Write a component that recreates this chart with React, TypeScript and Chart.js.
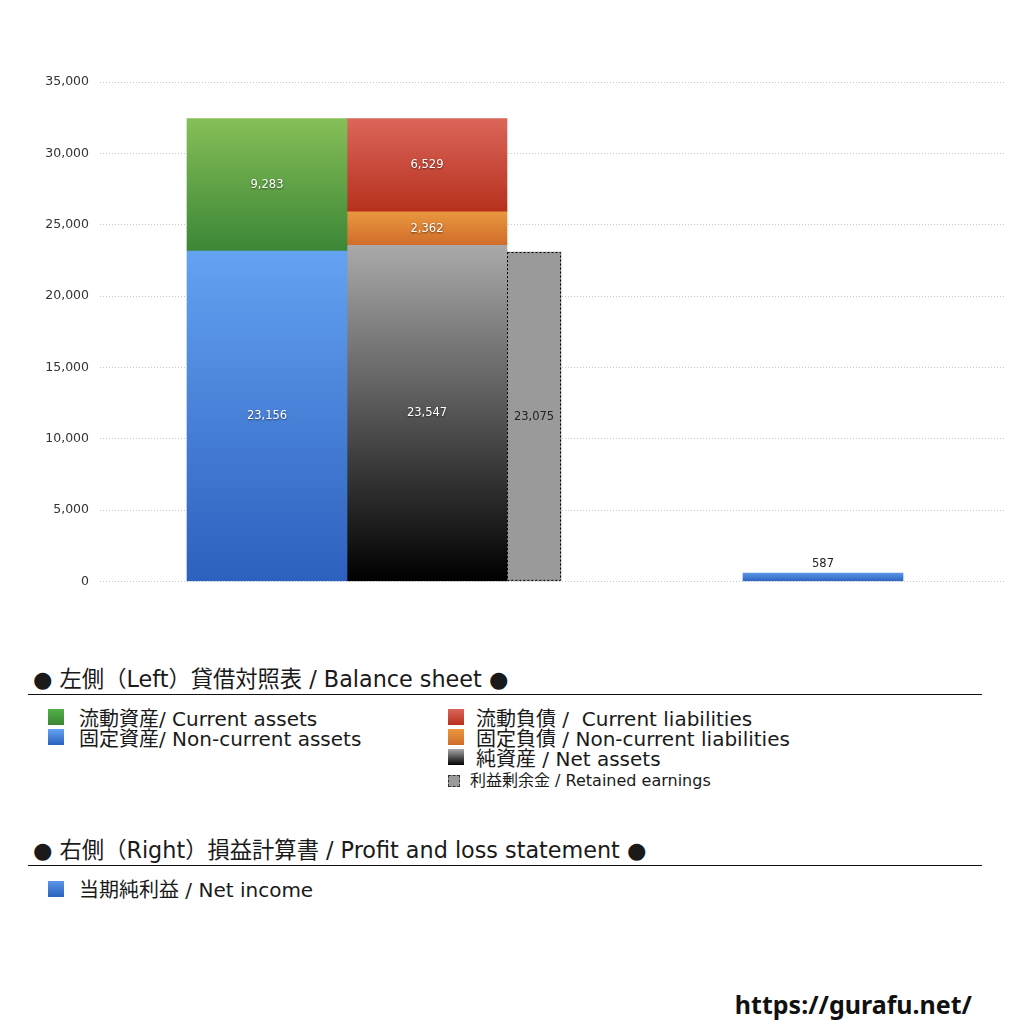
import React, { useEffect, useRef } from "react";
import { Chart, registerables } from "chart.js";

Chart.register(...registerables);

// ---- data (values in the reference) ----
const currentAssets = 9283; // 流動資産
const nonCurrentAssets = 23156; // 固定資産
const currentLiabilities = 6529; // 流動負債
const nonCurrentLiabilities = 2362; // 固定負債
const netAssets = 23547; // 純資産
const retainedEarnings = 23075; // 利益剰余金
const netIncome = 587; // 当期純利益

const yTickMax = 35000;
const yTickStep = 5000;

// ---- layout (pixel offsets inside the plot, x axis is 0..905) ----
const SLOT = { assets: 167, liabilities: 327, retained: 434, income: 723 };
const WIDE = 160;
const NARROW = 54;

const latin = '"DejaVu Sans", "Noto Sans CJK JP", sans-serif';

type Grad = [string, string];

function gradFill(colors: Grad) {
  return (c: any) => {
    const chart = c.chart;
    const raw = c.raw;
    if (!chart.chartArea || !raw || !chart.scales.y) return colors[1];
    const y = chart.scales.y;
    const [lo, hi] = raw.y;
    const top = y.getPixelForValue(hi);
    const bot = y.getPixelForValue(lo);
    if (!isFinite(top) || !isFinite(bot)) return colors[1];
    const g = chart.ctx.createLinearGradient(0, top, 0, bot);
    g.addColorStop(0, colors[0]);
    g.addColorStop(1, colors[1]);
    return g;
  };
}

const labelPlugin = {
  id: "barLabels",
  afterDatasetsDraw(chart: any) {
    const ctx = chart.ctx;
    chart.data.datasets.forEach((ds: any, i: number) => {
      const meta = chart.getDatasetMeta(i);
      meta.data.forEach((el: any, j: number) => {
        const raw = ds.data[j];
        const val = raw.y[1] - raw.y[0];
        const txt = val.toLocaleString("en-US");
        const { x, y, base } = el.getProps(["x", "y", "base"], true);
        ctx.save();
        ctx.font = `11.5px ${latin}`;
        ctx.textAlign = "center";
        ctx.textBaseline = "middle";
        if (ds.labelMode === "above") {
          ctx.fillStyle = "#222";
          ctx.fillText(txt, x, y - 9);
        } else if (ds.labelMode === "dark") {
          ctx.fillStyle = "#222";
          ctx.fillText(txt, x, (y + base) / 2);
        } else {
          ctx.shadowColor = "rgba(0,0,0,0.55)";
          ctx.shadowBlur = 2;
          ctx.shadowOffsetY = 1;
          ctx.fillStyle = "#fff";
          ctx.fillText(txt, x, (y + base) / 2);
        }
        ctx.restore();
      });
    });
  },
};

const dashedBorderPlugin = {
  id: "dashedBorder",
  afterDatasetsDraw(chart: any) {
    const idx = chart.data.datasets.findIndex((d: any) => d.dashedBorder);
    if (idx < 0) return;
    const el = chart.getDatasetMeta(idx).data[0];
    if (!el) return;
    const { x, y, base, width } = el.getProps(["x", "y", "base", "width"], true);
    const c = chart.ctx;
    c.save();
    c.strokeStyle = "#000";
    c.lineWidth = 1;
    c.setLineDash([2, 2]);
    c.strokeRect(Math.round(x - width / 2) + 0.5, Math.round(y) + 0.5, width - 1, base - y - 1);
    c.restore();
  },
};

function BalanceChart() {
  const ref = useRef<HTMLCanvasElement | null>(null);
  useEffect(() => {
    if (!ref.current) return;
    const assetsTop = nonCurrentAssets + currentAssets;
    const liabMid = netAssets + nonCurrentLiabilities;
    const liabTop = liabMid + currentLiabilities;
    const common = { grouped: false, borderWidth: 0 };
    const chart = new Chart(ref.current, {
      type: "bar",
      data: {
        datasets: [
          {
            ...common,
            label: "固定資産",
            data: [{ x: SLOT.assets, y: [0, nonCurrentAssets] }],
            barThickness: WIDE,
            backgroundColor: gradFill(["#64a2f2", "#2c60bd"]),
          },
          {
            ...common,
            label: "流動資産",
            data: [{ x: SLOT.assets, y: [nonCurrentAssets, assetsTop] }],
            barThickness: WIDE,
            backgroundColor: gradFill(["#86bf57", "#3b8636"]),
          },
          {
            ...common,
            label: "純資産",
            data: [{ x: SLOT.liabilities, y: [0, netAssets] }],
            barThickness: WIDE,
            backgroundColor: gradFill(["#a9a9a9", "#000000"]),
          },
          {
            ...common,
            label: "固定負債",
            data: [{ x: SLOT.liabilities, y: [netAssets, liabMid] }],
            barThickness: WIDE,
            backgroundColor: gradFill(["#e9973f", "#d06c2a"]),
          },
          {
            ...common,
            label: "流動負債",
            data: [{ x: SLOT.liabilities, y: [liabMid, liabTop] }],
            barThickness: WIDE,
            backgroundColor: gradFill(["#da6659", "#b7301e"]),
          },
          {
            ...common,
            label: "利益剰余金",
            labelMode: "dark",
            dashedBorder: true,
            data: [{ x: SLOT.retained, y: [0, retainedEarnings] }],
            barThickness: NARROW,
            backgroundColor: "#9a9a9a",
          },
          {
            ...common,
            label: "当期純利益",
            labelMode: "above",
            data: [{ x: SLOT.income, y: [0, netIncome] }],
            barThickness: WIDE,
            backgroundColor: gradFill(["#5a95e6", "#2c62c0"]),
          },
        ] as any,
      },
      options: {
        animation: false,
        responsive: true,
        maintainAspectRatio: false,
        layout: { padding: { top: 82, bottom: 18, left: 0, right: 19 } },
        plugins: { legend: { display: false }, tooltip: { enabled: false } },
        scales: {
          x: { type: "linear", display: false, offset: false, min: 0, max: 905 },
          y: {
            min: 0,
            max: yTickMax,
            afterFit: (s: any) => {
              s.width = 100;
            },
            ticks: {
              stepSize: yTickStep,
              padding: 11,
              color: "#333",
              font: { size: 12.5, family: latin },
              callback: (v: any) => Number(v).toLocaleString("en-US"),
            },
            grid: { color: "#c8c8c8", drawTicks: false, lineWidth: 1 },
            border: { display: false, dash: [1, 2] },
          },
        },
      },
      plugins: [labelPlugin, dashedBorderPlugin],
    } as any);
    return () => chart.destroy();
  }, []);
  return (
    <div style={{ position: "absolute", left: 0, top: 0, width: 1024, height: 600 }}>
      <canvas ref={ref} />
    </div>
  );
}

function Marker({ x, y, from, to, size = 16, dashed = false }: any) {
  return (
    <div
      style={{
        position: "absolute",
        left: x,
        top: y - size / 2,
        width: size,
        height: size,
        boxSizing: "border-box",
        background: dashed ? "#9a9a9a" : `linear-gradient(${from}, ${to})`,
        border: dashed ? "1px dashed #333" : "none",
      }}
    />
  );
}

function Txt({ x, y, size, children }: any) {
  return (
    <div
      style={{
        position: "absolute",
        left: x,
        top: y - 15,
        height: 30,
        lineHeight: "30px",
        fontSize: size,
        fontFamily: latin,
        color: "#1a1a1a",
        whiteSpace: "pre",
      }}
    >
      {children}
    </div>
  );
}

function Rule({ y }: any) {
  return <div style={{ position: "absolute", left: 28, top: y, width: 954, height: 0, borderTop: "1px solid #111" }} />;
}

export default function App() {
  return (
    <div style={{ position: "absolute", left: 0, top: 0, width: 1024, height: 1024, background: "#fff", overflow: "hidden" }}>
      <BalanceChart />
      <Txt x={33} y={679} size={22.3}>● 左側（Left）貸借対照表 / Balance sheet ●</Txt>
      <Rule y={694} />
      <Marker x={48} y={717} from="#52b048" to="#3b8636" />
      <Txt x={79} y={719} size={20}>流動資産/ Current assets</Txt>
      <Marker x={48} y={737} from="#64a2f2" to="#2c60bd" />
      <Txt x={79} y={739} size={20}>固定資産/ Non-current assets</Txt>
      <Marker x={448} y={717} from="#da6659" to="#b7301e" />
      <Txt x={476} y={719} size={20}>{"流動負債 /  Current liabilities"}</Txt>
      <Marker x={448} y={737} from="#e9973f" to="#d06c2a" />
      <Txt x={476} y={739} size={20}>固定負債 / Non-current liabilities</Txt>
      <Marker x={448} y={757} from="#a9a9a9" to="#000000" />
      <Txt x={476} y={759} size={20}>純資産 / Net assets</Txt>
      <Marker x={448} y={781} size={12} dashed />
      <Txt x={470} y={781} size={16}>利益剰余金 / Retained earnings</Txt>
      <Txt x={33} y={850} size={22.3}>● 右側（Right）損益計算書 / Profit and loss statement ●</Txt>
      <Rule y={865} />
      <Marker x={48} y={889} from="#5a95e6" to="#2c62c0" />
      <Txt x={79} y={890} size={20}>当期純利益 / Net income</Txt>
      <div
        style={{
          position: "absolute",
          right: 52,
          top: 989,
          lineHeight: "30px",
          fontSize: 25,
          fontWeight: 700,
          fontFamily: '"Noto Sans", sans-serif',
          color: "#111",
        }}
      >
        https://gurafu.net/
      </div>
    </div>
  );
}
